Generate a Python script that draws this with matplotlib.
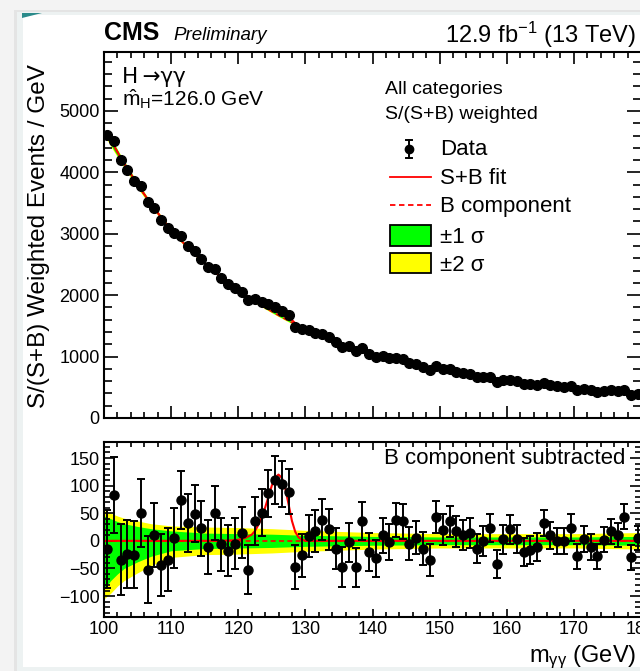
import numpy as np
import matplotlib
matplotlib.use('Agg')
import matplotlib.pyplot as plt
from matplotlib.patches import Rectangle, Polygon
from matplotlib.ticker import MultipleLocator

plt.rcParams['font.family'] = ['Liberation Sans', 'DejaVu Sans']
plt.rcParams['mathtext.fontset'] = 'custom'
plt.rcParams['mathtext.rm'] = 'Liberation Sans'
plt.rcParams['mathtext.it'] = 'Liberation Sans:italic'
plt.rcParams['mathtext.bf'] = 'Liberation Sans:bold'

# ---------------- data ----------------
mass = np.arange(100.5, 180.0, 1.0)   # 1 GeV bin centres

bkg = [4620, 4425, 4238, 4058, 3887, 3722, 3565, 3414, 3270, 3131,
       3000, 2887, 2777, 2672, 2571, 2474, 2381, 2291, 2204, 2121,
       2041, 1968, 1898, 1831, 1766, 1703, 1642, 1584, 1527, 1473,
       1420, 1375, 1332, 1290, 1249, 1209, 1171, 1134, 1098, 1064,
       1030, 1001, 973, 946, 920, 894, 869, 845, 821, 798,
       776, 757, 738, 720, 703, 685, 669, 652, 636, 621,
       605, 592, 580, 567, 555, 543, 532, 520, 509, 498,
       488, 476, 465, 454, 443, 432, 422, 412, 402, 392]

resid = [-15, 83, -34, -24, -25, 50, -52, 10, -44, -34,
         5, 74, 32, 49, 23, -12, 51, -6, -18, -5,
         15, -52, 36, 51, 86, 110, 103, 89, -48, -26,
         9, 17, 38, 21, -14, -47, -3, -48, 36, -20,
         -32, 10, -2, 38, 35, -5, 6, -14, -34, 44,
         20, 35, 17, 10, 14, -14, 0, 23, -42, 3,
         21, 3, -20, -17, -11, 32, 10, 0, 0, 24,
         -28, 3, -11, -28, 2, 17, 10, 44, -30, 5]

err = [70, 68, 64, 62, 61, 62, 61, 58, 56, 57,
       54, 53, 52, 52, 50, 49, 49, 48, 46, 46,
       46, 44, 43, 43, 42, 43, 42, 41, 40, 39,
       38, 38, 37, 37, 37, 36, 36, 35, 34, 34,
       33, 32, 32, 31, 31, 30, 30, 30, 29, 29,
       28, 28, 28, 27, 27, 27, 27, 26, 26, 26,
       26, 25, 25, 25, 25, 24, 24, 24, 24, 24,
       23, 23, 23, 23, 23, 22, 22, 22, 22, 22]

# signal component (S+B fit minus B)
sig_m = [100, 117, 118, 119, 120, 121, 122, 122.5, 123, 123.5, 124, 124.5, 125,
         125.5, 126, 126.5, 127, 127.5, 128, 128.5, 129, 129.5, 130, 131, 180]
sig_v = [0, 0, 0.3, 0.8, 2, 5, 11, 18, 29, 43, 60, 80, 100,
         115, 120, 114, 95, 66, 36, 16, 6, 2, 0.5, 0, 0]

# uncertainty bands on the background component
band_m = [100, 101, 102, 103, 105, 107, 110, 115, 120, 125, 130, 140, 150, 160, 170, 180]
g_hi = [45, 40, 35, 31, 26, 22, 18, 14, 13, 12, 10, 8, 7, 7, 7, 8]
g_lo = [-88, -72, -60, -50, -38, -28, -18, -14, -13, -12, -10, -8, -7, -7, -7, -8]
y_hi = [55, 50, 45, 41, 36, 31, 27, 25, 24, 22, 19, 15, 13, 13, 13, 15]
y_lo = [-105, -95, -82, -72, -58, -45, -30, -25, -24, -22, -19, -15, -13, -13, -13, -15]

bkg = np.array(bkg, float)
resid = np.array(resid, float)
err = np.array(err, float)
data_top = bkg + resid
sig_at_bins = np.interp(mass, sig_m, sig_v)

GREEN = '#00ff00'
YELLOW = '#ffff00'
RED = '#ff0000'

W, H = 640, 671
fig = plt.figure(figsize=(W / 100, H / 100), dpi=100)
fig.patch.set_facecolor('#f3f3f3')

def frac(x0, y0, x1, y1):
    return [x0 / W, 1 - y1 / H, (x1 - x0) / W, (y1 - y0) / H]

# page card background
bg = fig.add_axes([0, 0, 1, 1], zorder=-5)
bg.set_xlim(0, W); bg.set_ylim(H, 0); bg.axis('off')
bg.add_patch(Rectangle((14, 10), W, H, color='#e4e4e4', lw=0))
bg.add_patch(Rectangle((17, 12), W, H, color='#edf2f2', lw=0))
bg.add_patch(Rectangle((23, 15), W, 652, color='white', lw=0))
bg.add_patch(Polygon([(22, 13), (42, 13), (22, 18)], closed=True, color='#2a8a8a', lw=0))

# ---------------- top panel ----------------
ax1 = fig.add_axes(frac(104, 52, 641, 418))
ax1.set_xlim(100, 180)
ax1.set_ylim(0, 5960)
ax1.fill_between(mass, bkg + np.interp(mass, band_m, y_lo), bkg + np.interp(mass, band_m, y_hi),
                 color=YELLOW, lw=0, zorder=1)
ax1.fill_between(mass, bkg + np.interp(mass, band_m, g_lo), bkg + np.interp(mass, band_m, g_hi),
                 color=GREEN, lw=0, zorder=1)
ax1.plot(mass, bkg, color=RED, lw=1.2, ls=(0, (3, 2)), zorder=2)
ax1.plot(mass, bkg + sig_at_bins, color=RED, lw=1.4, zorder=2)
ax1.errorbar(mass, data_top, yerr=err, fmt='o', color='black', ms=7, lw=1.3,
             capsize=0, zorder=3)

# ---------------- bottom panel ----------------
ax2 = fig.add_axes(frac(104, 442, 641, 617))
ax2.set_xlim(100, 180)
ax2.set_ylim(-138, 179)
ax2.fill_between(band_m, y_lo, y_hi, color=YELLOW, lw=0, zorder=1)
ax2.fill_between(band_m, g_lo, g_hi, color=GREEN, lw=0, zorder=1)
ax2.axhline(0, color=RED, lw=1.2, ls=(0, (3, 2)), zorder=2)
ax2.plot(sig_m, sig_v, color=RED, lw=1.5, zorder=2)
ax2.errorbar(mass, resid, yerr=err, fmt='o', color='black', ms=6.5, lw=1.4,
             capsize=2.6, capthick=1.4, zorder=3)

for ax in (ax1, ax2):
    for s in ax.spines.values():
        s.set_linewidth(1.5)
    ax.xaxis.set_major_locator(MultipleLocator(10))
    ax.xaxis.set_minor_locator(MultipleLocator(2))
    ax.tick_params(which='both', direction='in', top=True, right=True, width=1.2,
                   labelsize=13, pad=3)

ax1.yaxis.set_major_locator(MultipleLocator(1000))
ax1.yaxis.set_minor_locator(MultipleLocator(200))
ax1.tick_params(axis='x', which='major', length=8.5, labelbottom=False)
ax1.tick_params(axis='x', which='minor', length=4.5)
ax1.tick_params(axis='y', which='major', length=10)
ax1.tick_params(axis='y', which='minor', length=5.5)

ax2.yaxis.set_major_locator(MultipleLocator(50))
ax2.yaxis.set_minor_locator(MultipleLocator(10))
ax2.tick_params(axis='x', which='major', length=6)
ax2.tick_params(axis='x', which='minor', length=3.5)
ax2.tick_params(axis='y', which='major', length=8)
ax2.tick_params(axis='y', which='minor', length=4)

# ---------------- annotations (pixel coordinates) ----------------
ov = fig.add_axes([0, 0, 1, 1], zorder=10)
ov.set_xlim(0, W); ov.set_ylim(H, 0); ov.axis('off')

ov.text(104, 40, 'CMS', fontsize=18, fontweight='bold', ha='left', va='baseline')
ov.text(173, 40, 'Preliminary', fontsize=13.5, style='italic', ha='left', va='baseline')
ov.text(636, 43, r'12.9 fb$^{\mathregular{-1}}$ (13 TeV)', fontsize=17, ha='right', va='baseline')
ov.text(39, 236, 'S/(S+B) Weighted Events / GeV', fontsize=17.5, rotation=90,
        ha='center', va='center')
ov.text(122, 83, 'H\u2009\u2192\u03b3\u03b3', fontsize=15.5, ha='left', va='baseline',
        family=['DejaVu Sans'])
ov.text(122, 106, r'$\hat{\mathrm{m}}_{\mathrm{H}}$=126.0 GeV', fontsize=15, ha='left', va='baseline')

ov.text(385, 94, 'All categories', fontsize=14, ha='left', va='baseline')
ov.text(385, 119, 'S/(S+B) weighted', fontsize=14, ha='left', va='baseline')
# legend
ov.plot([409, 409], [140, 158], color='black', lw=1.4)
ov.plot([406, 412], [140, 140], color='black', lw=1.4)
ov.plot([406, 412], [158, 158], color='black', lw=1.4)
ov.plot([409], [149], 'o', color='black', ms=6)
ov.text(440, 155, 'Data', fontsize=16, ha='left', va='baseline')
ov.plot([390, 431], [177, 177], color=RED, lw=1.3)
ov.text(440, 184, 'S+B fit', fontsize=16, ha='left', va='baseline')
ov.plot([390, 431], [205, 205], color=RED, lw=1.3, ls=(0, (3, 2)))
ov.text(440, 212, 'B component', fontsize=16, ha='left', va='baseline')
ov.add_patch(Rectangle((390, 225), 41, 21, facecolor=GREEN, edgecolor='black', lw=1.3))
ov.text(440, 243, '\u00b11 \u03c3', fontsize=16, ha='left', va='baseline')
ov.add_patch(Rectangle((390, 253), 41, 20, facecolor=YELLOW, edgecolor='black', lw=1.3))
ov.text(440, 271, '\u00b12 \u03c3', fontsize=16, ha='left', va='baseline')

ov.text(625, 464, 'B component subtracted', fontsize=16, ha='right', va='baseline')
ov.text(636, 662, r'm$_{\mathregular{\gamma\gamma}}$ (GeV)', fontsize=17, ha='right', va='baseline')

fig.savefig('out.png', dpi=100, facecolor=fig.get_facecolor())
